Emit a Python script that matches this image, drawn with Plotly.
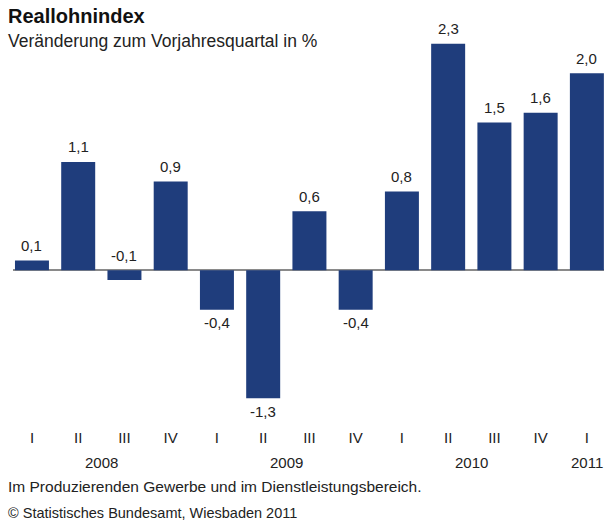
import plotly.graph_objects as go

quarters = ["I", "II", "III", "IV", "I", "II", "III", "IV", "I", "II", "III", "IV", "I"]
values = [0.1, 1.1, -0.1, 0.9, -0.4, -1.3, 0.6, -0.4, 0.8, 2.3, 1.5, 1.6, 2.0]
years = ["2008", "2009", "2010", "2011"]
year_pos = [1.5, 5.5, 9.5, 12]

labels = [f"{v:.1f}".replace(".", ",") for v in values]
xs = list(range(len(values)))

FONT = "Liberation Sans, Arial, sans-serif"
W, H = 604, 523
T, B = 23.5, 105
plot_h = H - T - B

fig = go.Figure(go.Bar(
    x=xs, y=values,
    marker=dict(color="#1f3d7c", line=dict(width=0)),
    width=0.735, hoverinfo="skip",
))

fig.update_layout(
    width=W, height=H,
    margin=dict(l=13, r=0, t=T, b=B),
    paper_bgcolor="white", plot_bgcolor="white",
    showlegend=False,
    xaxis=dict(range=[-0.41, 12.37], tickmode="array", tickvals=xs, ticktext=quarters,
               showgrid=False, zeroline=False, showline=False,
               ticks="outside", ticklen=6, tickcolor="rgba(0,0,0,0)",
               tickfont=dict(family=FONT, size=15, color="#222222")),
    yaxis=dict(range=[-1.5, 2.5], showgrid=False, showticklabels=False,
               zeroline=True, zerolinecolor="#8a8a8a", zerolinewidth=1.5, showline=False),
    font=dict(family=FONT),
)

# value labels: small bars (|v| <= 0.1) labelled above the zero line
for x, v, t in zip(xs, values, labels):
    above = v >= -0.1
    fig.add_annotation(x=x, y=max(v, 0) if above else v, xref="x", yref="y",
                       text=t, showarrow=False, yanchor="middle",
                       yshift=15 if above else -13,
                       font=dict(family=FONT, size=15, color="#222222"))

def py(pix):
    return (H - B - pix) / plot_h

def px(pix):
    return (pix - 13) / (W - 13)

for y, p in zip(years, year_pos):
    fig.add_annotation(x=p, y=py(463), xref="x", yref="paper", text=y, showarrow=False,
                       yanchor="middle",
                       font=dict(family=FONT, size=15, color="#222222"))

fig.add_annotation(x=px(6), y=py(15), xref="paper", yref="paper",
                   text="<b>Reallohnindex</b>", showarrow=False, xanchor="left", yanchor="middle",
                   font=dict(family=FONT, size=20, color="#111111"))
fig.add_annotation(x=px(6), y=py(41), xref="paper", yref="paper",
                   text="Veränderung zum Vorjahresquartal in %", showarrow=False,
                   xanchor="left", yanchor="middle",
                   font=dict(family=FONT, size=17.5, color="#222222"))
fig.add_annotation(x=px(6), y=py(487), xref="paper", yref="paper",
                   text="Im Produzierenden Gewerbe und im Dienstleistungsbereich.", showarrow=False,
                   xanchor="left", yanchor="middle",
                   font=dict(family=FONT, size=15.5, color="#222222"))
fig.add_annotation(x=px(6), y=py(513), xref="paper", yref="paper",
                   text="© Statistisches Bundesamt, Wiesbaden 2011", showarrow=False,
                   xanchor="left", yanchor="middle",
                   font=dict(family=FONT, size=14.5, color="#222222"))

fig.write_html("out.html", config={"displayModeBar": False},
               post_script="document.body.style.margin='0';document.body.style.overflow='hidden';")
